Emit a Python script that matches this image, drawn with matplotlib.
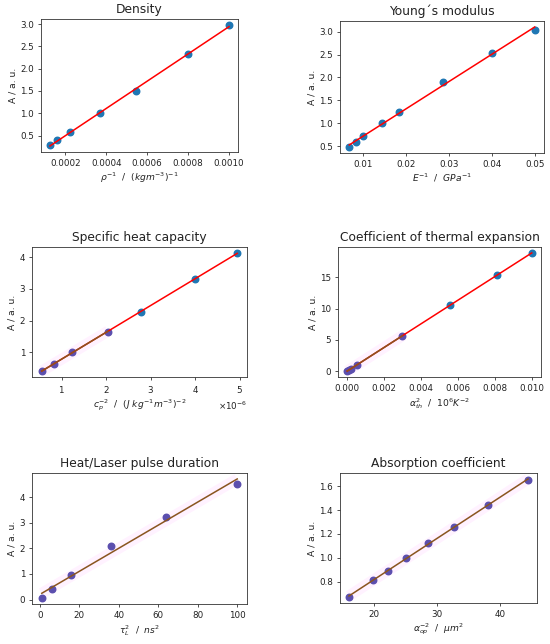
import matplotlib
matplotlib.use("Agg")
import matplotlib.pyplot as plt
from matplotlib.ticker import MultipleLocator
import numpy as np

# ============================================================
# Data
# ============================================================
density_x = [0.000125, 0.00016, 0.000222, 0.00037, 0.000546, 0.0008, 0.001]
density_y = [0.28, 0.40, 0.57, 1.00, 1.49, 2.33, 2.98]

young_x = [0.0067, 0.0083, 0.0100, 0.0143, 0.0182, 0.0286, 0.0400, 0.0500]
young_y = [0.48, 0.59, 0.71, 1.00, 1.25, 1.89, 2.53, 3.04]

heat_cap_x = [0.549e-6, 0.826e-6, 1.235e-6, 2.04e-6, 2.78e-6, 4.0e-6, 4.94e-6]
heat_cap_y = [0.42, 0.65, 1.00, 1.65, 2.28, 3.32, 4.13]

thermal_x = [0.000009, 0.0001, 0.000225, 0.00053, 0.003, 0.0056, 0.0081, 0.010]
thermal_y = [0.02, 0.19, 0.43, 1.00, 5.70, 10.60, 15.30, 18.90]

pulse_x = [1, 6.25, 16, 36, 64, 100]
pulse_y = [0.06, 0.40, 0.98, 2.08, 3.23, 4.53]

absorb_x = [16.0, 19.75, 22.2, 25.0, 28.6, 32.65, 38.1, 44.4]
absorb_y = [0.67, 0.81, 0.89, 1.00, 1.12, 1.26, 1.44, 1.655]

# ============================================================
# Colors / sizes
# ============================================================
color_data = "#1f77b4"
color_fit = "#ff0000"
color_sel = "#5b4fae"
color_sel_fit = "#8a5520"
color_band = "magenta"

TITLE_SIZE = 8.8
TICK_SIZE = 6.3
LABEL_SIZE = 6.6
LW = 1.1
MS = 22

W, H = 550, 644


def make_axes(fig, left, right, top, bottom):
    ax = fig.add_axes([left / W, 1 - bottom / H, (right - left) / W, (bottom - top) / H])
    for sp in ax.spines.values():
        sp.set_linewidth(0.6)
        sp.set_color("#333333")
    ax.tick_params(labelsize=TICK_SIZE, width=0.6, length=2.5, pad=2.5,
                   colors="#333333", labelcolor="#222222")
    ax.xaxis.get_offset_text().set_fontsize(TICK_SIZE)
    return ax


def fit_line(x, y, xs):
    p = np.polyfit(x, y, 1)
    return np.polyval(p, xs)


def panel(ax, x, y, n_sel, title, xlabel, full_fit=True):
    x = np.asarray(x)
    y = np.asarray(y)
    xs_all = np.array([x.min(), x.max()])
    if n_sel > 0:
        xs_sel = np.array([x[:n_sel].min(), x[:n_sel].max()])
        ax.plot(xs_sel, fit_line(x, y, xs_sel), color=color_band, alpha=0.05,
                linewidth=8, solid_capstyle="butt", zorder=0.5)
    ax.scatter(x[n_sel:], y[n_sel:], c=color_data, s=MS, zorder=1)
    if n_sel > 0:
        ax.scatter(x[:n_sel], y[:n_sel], c=color_sel, s=MS, zorder=1)
    if full_fit:
        ax.plot(xs_all, fit_line(x, y, xs_all), color=color_fit, linewidth=LW, zorder=2)
    if n_sel > 0:
        ax.plot(xs_sel, fit_line(x, y, xs_sel), color=color_sel_fit, linewidth=LW, zorder=3)
    ax.set_title(title, fontsize=TITLE_SIZE, pad=4, color="#222222")
    ax.set_xlabel(xlabel, fontsize=LABEL_SIZE, labelpad=2, color="#222222")
    ax.set_ylabel("A / a. u.", fontsize=LABEL_SIZE, labelpad=2, color="#222222")


fig = plt.figure(figsize=(5.5, 6.44), dpi=100)

ax = make_axes(fig, 41, 238, 19, 152)
panel(ax, density_x, density_y, 0, "Density", r"$\rho^{-1}$  /  $(kgm^{-3})^{-1}$")

ax = make_axes(fig, 340, 544, 21, 153)
panel(ax, young_x, young_y, 0, "Young\u00b4s modulus", r"$E^{-1}$  /  $GPa^{-1}$")

ax = make_axes(fig, 32, 247, 247, 377)
ax.ticklabel_format(axis="x", style="sci", scilimits=(0, 0), useMathText=True)
panel(ax, heat_cap_x, heat_cap_y, 4, "Specific heat capacity",
      r"$c_p^{-2}$  /  $(J\ kg^{-1}m^{-3})^{-2}$")

ax = make_axes(fig, 338, 541, 247, 377)
panel(ax, thermal_x, thermal_y, 5, "Coefficient of thermal expansion",
      r"$\alpha_{th}^2$  /  $10^6K^{-2}$")

ax = make_axes(fig, 32, 247, 473, 604)
panel(ax, pulse_x, pulse_y, len(pulse_x), "Heat/Laser pulse duration",
      r"$\tau_L^2$  /  $ns^2$", full_fit=False)

ax = make_axes(fig, 340, 537, 473, 603)
panel(ax, absorb_x, absorb_y, len(absorb_x), "Absorption coefficient",
      r"$\alpha_{op}^{-2}$  /  $\mu m^2$", full_fit=False)
ax.xaxis.set_major_locator(MultipleLocator(10))

fig.savefig("out.png", dpi=100)
